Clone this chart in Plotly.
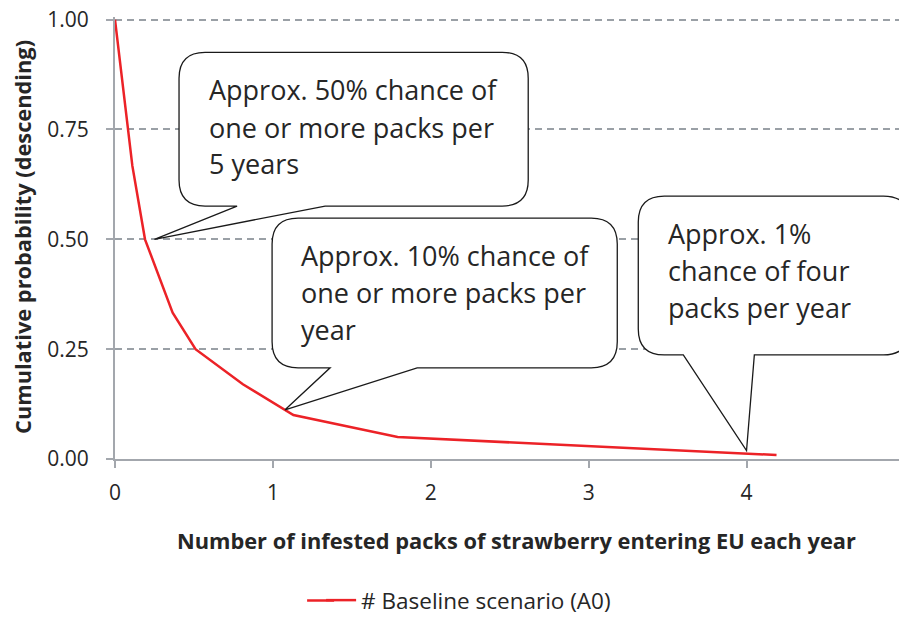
import plotly.graph_objects as go

# ---- data ----
packs = [0, 0.11, 0.19, 0.365, 0.51, 0.81, 1.13, 1.79, 4.19]
cum_prob = [1.0, 0.667, 0.5, 0.333, 0.25, 0.17, 0.10, 0.05, 0.009]
series_name = "# Baseline scenario (A0)"
x_ticks = [0, 1, 2, 3, 4, 5]
y_ticks = [0, 0.25, 0.5, 0.75, 1.0]
y_tick_labels = ["0.00", "0.25", "0.50", "0.75", "1.00"]
x_title = "Number of infested packs of strawberry entering EU each year"
y_title = "Cumulative probability (descending)"

# callout texts and data points they point to
callout_lines = [
    ["Approx. 50% chance of", "one or more packs per", "5 years"],
    ["Approx. 10% chance of", "one or more packs per", "year"],
    ["Approx. 1%", "chance of four", "packs per year"],
]
callout_tips = [(0.25, 0.5), (1.077, 0.112), (4.0, 0.019)]

# ---- layout geometry (page pixels; the figure div sits at an 8px body offset) ----
OX, OY = 8, 8
W, H = 907 - OX, 617 - OY
XMIN, XMAX, YMIN, YMAX = 0, 5.01, 0, 1.006
X0PX, X5PX = 115, 904          # page px of x=0 and x=5
Y0PX, Y1PX = 459.3, 19.3       # page px of y=0 and y=1
ppx = (X5PX - X0PX) / 5
ppy = (Y0PX - Y1PX) / 1
L, R = X0PX, X0PX + XMAX * ppx
B, T = Y0PX, Y0PX - YMAX * ppy

def px(xp):  # page pixel -> paper x
    return (xp - L) / (R - L)

def py(yp):  # page pixel -> paper y
    return (B - yp) / (B - T)

def dx(x):  # data -> paper x
    return (x - XMIN) / (XMAX - XMIN)

def dy(y):
    return (y - YMIN) / (YMAX - YMIN)

# callout boxes (pixel): left, top, right, bottom, tail base left, tail base right
boxes = [
    (179, 52, 528, 206, 237, 325),
    (272, 218, 617, 368, 330, 417),
    (638, 196, 909, 355, 683, 754),
]
text_left = [206.5, 299, 665.5]
baselines = [[99.3, 136.7, 173.3], [265, 302, 339], [243.3, 280.7, 317.3]]

FONT = "Open Sans"
TXT = "#262626"
RED = "#ec2227"

fig = go.Figure()
fig.add_trace(go.Scatter(
    x=packs, y=cum_prob, mode="lines", name=series_name,
    line=dict(color=RED, width=2.5), cliponaxis=False,
))

shapes = []
annotations = []
r = 26
for (bl, bt, br, bb, tl, tr), (tx, ty) in zip(boxes, callout_tips):
    def P(a, b):
        return f"{px(a):.5f},{py(b):.5f}"
    tipx, tipy = dx(tx), dy(ty)
    path = (
        f"M{P(tl, bb)} L{P(bl + r, bb)} Q{P(bl, bb)} {P(bl, bb - r)} "
        f"L{P(bl, bt + r)} Q{P(bl, bt)} {P(bl + r, bt)} "
        f"L{P(br - r, bt)} Q{P(br, bt)} {P(br, bt + r)} "
        f"L{P(br, bb - r)} Q{P(br, bb)} {P(br - r, bb)} "
        f"L{P(tr, bb)} L{tipx:.5f},{tipy:.5f} Z"
    )
    shapes.append(dict(type="path", xref="paper", yref="paper", path=path,
                       line=dict(color="#1a1a1a", width=1.3), fillcolor="white",
                       layer="above"))

# lengthen the legend key line a little (reference key is ~50px long)
shapes.append(dict(type="line", xref="paper", yref="paper",
                   x0=px(307), x1=px(334), y0=py(601), y1=py(601),
                   line=dict(color=RED, width=2.5)))

FS = 27
for lines, lx, bls in zip(callout_lines, text_left, baselines):
    for line, b in zip(lines, bls):
        annotations.append(dict(
            text=line, xref="paper", yref="paper", x=px(lx), y=py(b - 0.36 * FS),
            xanchor="left", yanchor="middle", showarrow=False,
            font=dict(family=FONT, size=FS, color=TXT),
        ))

# axis titles
TFS = 21.8
annotations.append(dict(
    text=f"<b>{x_title}</b>", xref="paper", yref="paper", x=px(516), y=py(541),
    xanchor="center", yanchor="middle", showarrow=False,
    font=dict(family=FONT, size=TFS, color=TXT),
))
annotations.append(dict(
    text=f"<b>{y_title}</b>", xref="paper", yref="paper", x=px(22), y=py(237),
    xanchor="center", yanchor="middle", showarrow=False, textangle=-90,
    font=dict(family=FONT, size=TFS, color=TXT),
))

fig.update_layout(
    width=W, height=H,
    margin=dict(l=L - OX, r=W - (R - OX), t=T - OY, b=H - (B - OY), pad=0,
                autoexpand=False),
    paper_bgcolor="white", plot_bgcolor="white",
    font=dict(family=FONT, color=TXT),
    shapes=shapes, annotations=annotations,
    showlegend=True,
    legend=dict(orientation="h", x=px(321), y=py(601), xanchor="left", yanchor="middle",
                bgcolor="rgba(0,0,0,0)",
                font=dict(family=FONT, size=22.5, color=TXT)),
    xaxis=dict(
        range=[XMIN, XMAX], tickvals=x_ticks, ticktext=[str(v) for v in x_ticks],
        showgrid=False, zeroline=False, showline=True, linecolor="#a3a7ad", linewidth=2,
        ticks="outside", ticklen=7, tickwidth=2, tickcolor="#a3a7ad",
        tickfont=dict(family=FONT, size=21, color=TXT), ticklabelstandoff=7,
        ticklabeloverflow="allow",
    ),
    yaxis=dict(
        range=[YMIN, YMAX], tickvals=y_ticks, ticktext=y_tick_labels,
        showgrid=True, gridcolor="#9aa0a6", gridwidth=1.5, griddash="7px,5px",
        zeroline=False, showline=True, linecolor="#a3a7ad", linewidth=2,
        ticks="outside", ticklen=7, tickwidth=2, tickcolor="#a3a7ad",
        tickfont=dict(family=FONT, size=21, color=TXT), ticklabelstandoff=13,
        ticklabeloverflow="allow",
    ),
)

fig.write_html("out.html")
